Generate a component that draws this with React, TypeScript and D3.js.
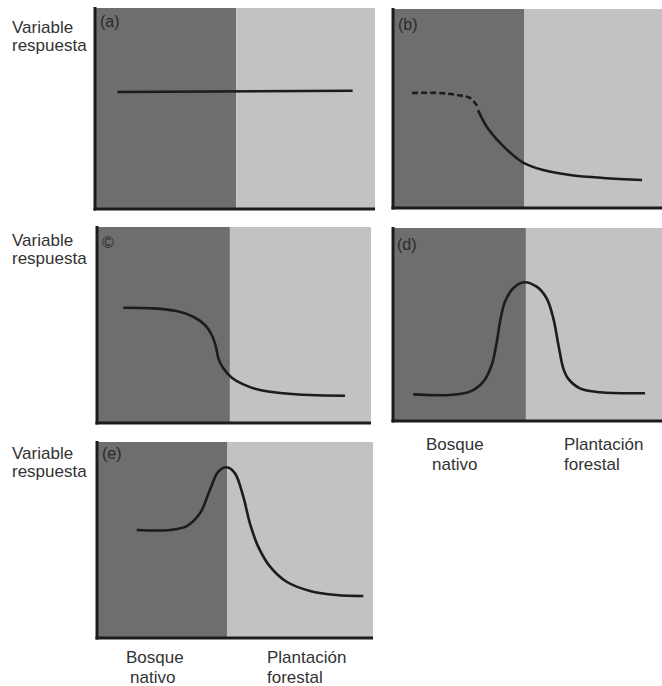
import React from "react";
import * as d3 from "d3";

// Habitat gradient: 0–100 along x (native forest → forest plantation),
// response variable: 0–100 along y.
const habitats = ["Bosque nativo", "Plantación forestal"];
const panelLetters = ["(a)", "(b)", "©", "(d)", "(e)"];
const yAxisTitle = ["Variable", "respuesta"];

// Share of the gradient occupied by native forest, per panel
const forestShare = [50.4, 48.7, 48.5, 49.4, 47.1];

const curveA: [number, number][] = [[8, 58.2], [92, 58.8]];
const curveBDashed: [number, number][] = [
  [7.1, 57.8], [17.5, 57.8], [23.8, 56.8], [28.6, 55.3], [31.6, 50.8],
];
const curveBSolid: [number, number][] = [
  [31.6, 49.2], [34.9, 40.7], [39.8, 32.7], [44.6, 26.6], [48.7, 22.6],
  [55.8, 19.1], [65.8, 16.6], [78.1, 15.1], [92.6, 14.1],
];
const curveC: [number, number][] = [
  [9.6, 58.8], [20.5, 58.5], [29.1, 57.1], [35.1, 54.2], [39.4, 50.0],
  [41.9, 44.9], [43.4, 38.9], [44.3, 33.0], [46.1, 27.9], [49.2, 23.1],
  [53.4, 19.7], [59.5, 16.8], [68.0, 15.2], [77.7, 14.3], [90.5, 13.9],
];
const curveD: [number, number][] = [
  [7.5, 13.8], [21.2, 13.5], [28.6, 15.2], [33.6, 20.4], [36.7, 29.0],
  [38.6, 41.1], [39.8, 51.5], [41.6, 61.8], [44.7, 68.8], [48.7, 71.9],
  [53.4, 69.6], [57.1, 63.6], [59.6, 53.2], [61.5, 39.4], [63.3, 27.3],
  [65.2, 21.8], [69.5, 16.9], [77.0, 14.9], [93.7, 14.4],
];
const curveE: [number, number][] = [
  [14.4, 55.1], [26.4, 55.1], [32.5, 57.1], [37.3, 63.6], [40.9, 75.5],
  [43.9, 84.8], [47.0, 87.1], [50.0, 84.0], [53.0, 72.1], [55.4, 58.5],
  [58.4, 46.6], [62.7, 36.4], [68.7, 28.7], [77.2, 24.0], [86.8, 21.9],
  [96.5, 21.4],
];

type Series = { points: [number, number][]; dashed?: boolean; smooth?: boolean };

const panelSeries: Series[][] = [
  [{ points: curveA, smooth: false }],
  [{ points: curveBDashed, dashed: true }, { points: curveBSolid }],
  [{ points: curveC }],
  [{ points: curveD }],
  [{ points: curveE }],
];

// Panel frames in page pixels
const frames = [
  { left: 95, right: 375, top: 8, bottom: 209, letter: [100, 27], title: [12, 33, 51] },
  { left: 393, right: 662, top: 9, bottom: 208, letter: [398, 30], title: null },
  { left: 97, right: 371, top: 227, bottom: 423, letter: [102, 248], title: [12, 246, 264] },
  { left: 393, right: 662, top: 228, bottom: 421, letter: [397, 250], title: null },
  { left: 97, right: 373, top: 442, bottom: 638, letter: [102, 459], title: [12, 459, 477] },
];

// Habitat captions under the lowest panel of each column
const captions = [
  { forest: [426, 432, 450, 470], plantation: [564, 450, 470] },
  { forest: [126, 130, 663, 683], plantation: [267, 663, 683] },
];

const DARK = "#6f6e6e";
const LIGHT = "#c2c2c2";
const INK = "#1e1b1c";
const FONT = "'Liberation Sans', Arial, Helvetica, sans-serif";

function Panel({ index }: { index: number }) {
  const f = frames[index];
  const x = d3.scaleLinear().domain([0, 100]).range([f.left, f.right]);
  const y = d3.scaleLinear().domain([0, 100]).range([f.bottom, f.top]);
  const split = x(forestShare[index]);
  return (
    <g>
      <rect x={f.left} y={f.top} width={split - f.left} height={f.bottom - f.top} fill={DARK} />
      <rect x={split} y={f.top} width={f.right - split} height={f.bottom - f.top} fill={LIGHT} />
      {panelSeries[index].map((s, i) => {
        const gen = d3
          .line<[number, number]>()
          .x((d) => x(d[0]))
          .y((d) => y(d[1]))
          .curve(s.smooth === false ? d3.curveLinear : d3.curveCatmullRom.alpha(0.5));
        return (
          <path
            key={i}
            d={gen(s.points) || ""}
            fill="none"
            stroke={INK}
            strokeWidth={2.6}
            strokeDasharray={s.dashed ? "6,3" : undefined}
            strokeLinecap="butt"
          />
        );
      })}
      <line x1={f.left} x2={f.left} y1={f.top - 1} y2={f.bottom + 1.5} stroke={INK} strokeWidth={3} />
      <line x1={f.left - 1.5} x2={f.right} y1={f.bottom} y2={f.bottom} stroke={INK} strokeWidth={3} />
      <text x={f.letter[0]} y={f.letter[1]} fontSize={16} fill="#2a2a2a" fontFamily={FONT}>
        {panelLetters[index]}
      </text>
      {f.title && (
        <text fontSize={17} fill="#333" fontFamily={FONT}>
          <tspan x={f.title[0]} y={f.title[1]}>{yAxisTitle[0]}</tspan>
          <tspan x={f.title[0]} y={f.title[2]}>{yAxisTitle[1]}</tspan>
        </text>
      )}
    </g>
  );
}

export default function App() {
  const [forestWords, plantationWords] = habitats.map((h) => h.split(" "));
  return (
    <svg
      width={662}
      height={686}
      style={{ position: "absolute", left: 0, top: 0, background: "#fff" }}
    >
      {frames.map((_, i) => (
        <Panel key={i} index={i} />
      ))}
      {captions.map((c, i) => (
        <g key={i} fontSize={17} fill="#333" fontFamily={FONT}>
          <text x={c.forest[0]} y={c.forest[2]}>{forestWords[0]}</text>
          <text x={c.forest[1]} y={c.forest[3]}>{forestWords[1]}</text>
          <text x={c.plantation[0]} y={c.plantation[1]}>{plantationWords[0]}</text>
          <text x={c.plantation[0]} y={c.plantation[2]}>{plantationWords[1]}</text>
        </g>
      ))}
    </svg>
  );
}
